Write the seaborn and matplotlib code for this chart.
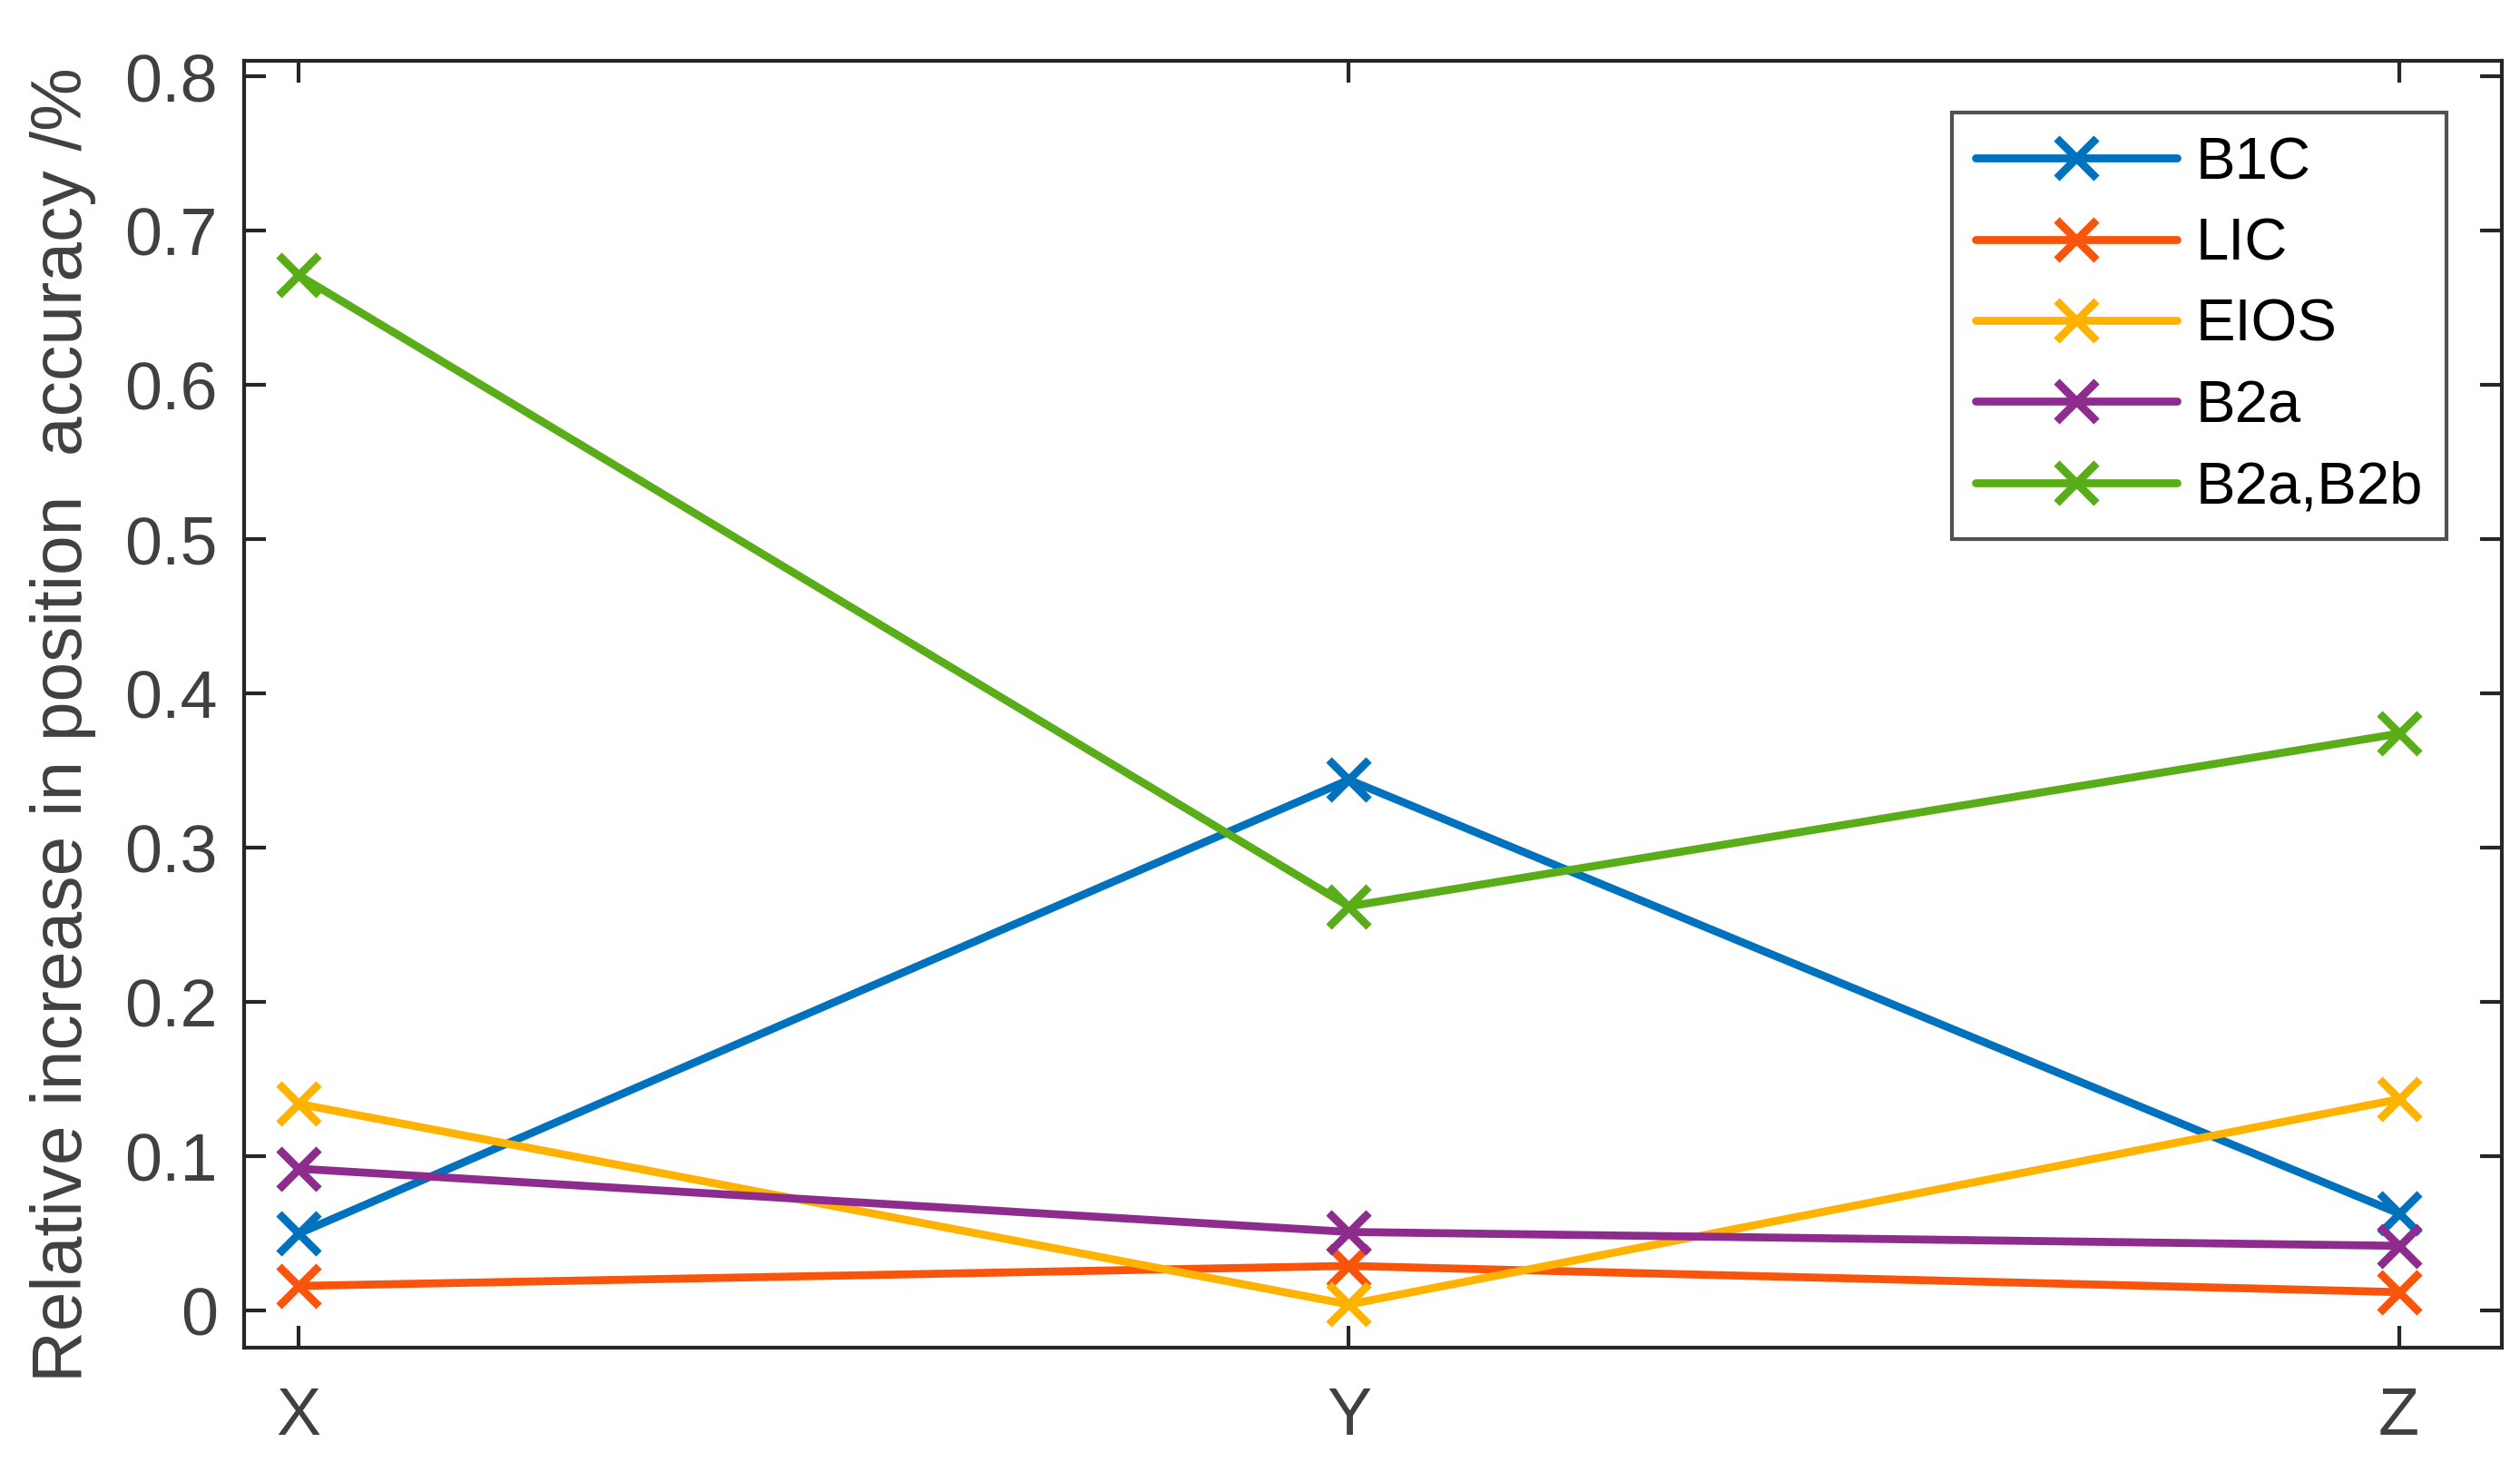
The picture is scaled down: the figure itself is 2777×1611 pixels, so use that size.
import numpy as np
import pandas as pd
import matplotlib
matplotlib.use("Agg")
import matplotlib.pyplot as plt
import seaborn as sns
from matplotlib.lines import Line2D

axes_labels = ["X", "Y", "Z"]
series_names = ["B1C", "LIC", "EIOS", "B2a", "B2a,B2b"]
b1c = [0.050, 0.344, 0.063]
lic = [0.016, 0.029, 0.012]
eios = [0.134, 0.004, 0.137]
b2a = [0.092, 0.051, 0.042]
b2ab = [0.671, 0.262, 0.374]
colors = ["#0072BD", "#F8540C", "#FFB300", "#8E2C8E", "#58AD18"]

values = [b1c, lic, eios, b2a, b2ab]
rows = []
for name, vals in zip(series_names, values):
    for i, v in enumerate(vals):
        rows.append({"pos": i, "val": v, "series": name})
df = pd.DataFrame(rows)

sns.set_theme(style="white")
plt.rcParams['font.family'] = ['Liberation Sans', 'DejaVu Sans']

fig = plt.figure(figsize=(27.77, 16.11), dpi=100)
ax = fig.add_axes([0.0969, 0.0782, 0.8959, 0.8802])

lw = 6.3
ms = 31
sns.lineplot(data=df, x="pos", y="val", hue="series", hue_order=series_names,
             palette=colors, marker="x", markersize=ms, markeredgewidth=lw,
             linewidth=lw, ax=ax, legend=False, sort=False, errorbar=None)
for ln in ax.lines:
    ln.set_markeredgecolor(ln.get_color())
    ln.set_markerfacecolor(ln.get_color())
    ln.set_markeredgewidth(lw)
    ln.set_markersize(ms)

ax.set_xlim(-0.052, 2.098)
ax.set_ylim(-0.024, 0.81)
ax.set_xticks([0, 1, 2])
ax.set_xticklabels(axes_labels)
ax.set_yticks(np.arange(0, 0.81, 0.1))
ax.set_yticklabels(["0"] + [f"{v:.1f}" for v in np.arange(0.1, 0.81, 0.1)])
ax.set_xlabel("")
ax.set_ylabel("Relative increase in position  accuracy /%", fontsize=56.5,
              color="#404040")
ax.yaxis.set_label_coords(-0.0655, 0.484)

for sp in ax.spines.values():
    sp.set_visible(True)
    sp.set_linewidth(3.0)
    sp.set_color("#262626")

ax.tick_params(axis="both", which="major", direction="in", length=17, width=3.0,
               color="#262626", labelsize=53, labelcolor="#404040",
               top=True, right=True, bottom=True, left=True)
ax.tick_params(axis="x", pad=30)
ax.tick_params(axis="y", pad=21)

handles = [Line2D([], [], color=c, lw=lw, marker="x", markersize=ms,
                  markeredgewidth=lw) for c in colors]
leg = ax.legend(handles, series_names, loc="upper right",
                bbox_to_anchor=(0.9755, 0.9598), borderaxespad=0,
                fontsize=47, handlelength=3.4, handletextpad=0.32,
                labelspacing=0.45, borderpad=0.4, frameon=True, fancybox=False)
leg.get_frame().set_edgecolor("#262626")
leg.get_frame().set_linewidth(3.0)
for t in leg.get_texts():
    t.set_color("black")

fig.savefig("out.png", dpi=100, facecolor="white")
